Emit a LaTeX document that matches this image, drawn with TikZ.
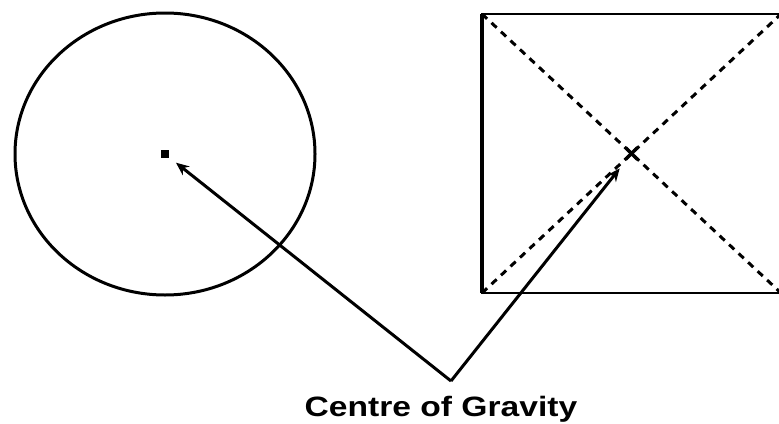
\documentclass[tikz,border=0pt]{standalone}
\usepackage{fontspec}
\setmainfont{Liberation Sans}
\usetikzlibrary{arrows.meta}
\begin{document}
\begin{tikzpicture}[x=1pt,y=-1pt,
  shapeline/.style={line width=3pt,black},
  diag/.style={line width=3pt,dash pattern=on 7pt off 6pt},
  pointer/.style={line width=3pt,-{Stealth[length=13pt,width=11pt]}},
  caption/.style={font=\bfseries\fontsize{28}{30}\selectfont,inner sep=0pt,anchor=base}]
\useasboundingbox[fill=white] (0,0) rectangle (779,423);
% circle
\coordinate (cc) at (165,154);
\draw[shapeline] (cc) ellipse [x radius=150, y radius=141];
\fill (cc) ++(-4,-4) rectangle ++(8,8);
% rectangle
\coordinate (r1) at (482,14);
\coordinate (r2) at (781,14);
\coordinate (r3) at (781,293);
\coordinate (r4) at (482,293);
\draw[line width=2.4pt] (r1) rectangle (r3);
\draw[line width=4.5pt] (r1) -- (r4);
\draw[diag] (r1) -- (r3);
\draw[diag] (r4) -- (r2);
\coordinate (rc) at (631.5,153.5);
\draw[line width=3.5pt] (rc) ++(-6,-6) -- ++(12,12) (rc) ++(6,-6) -- ++(-12,12);
% pointers
\coordinate (apex) at (451,381);
\draw[pointer,shorten >=14pt] (apex) -- (cc);
\draw[pointer,shorten >=19pt] (apex) -- (rc);
\node[caption] (label) at (441,416) {\scalebox{1.2}[1]{Centre of Gravity}};
\end{tikzpicture}
\end{document}
